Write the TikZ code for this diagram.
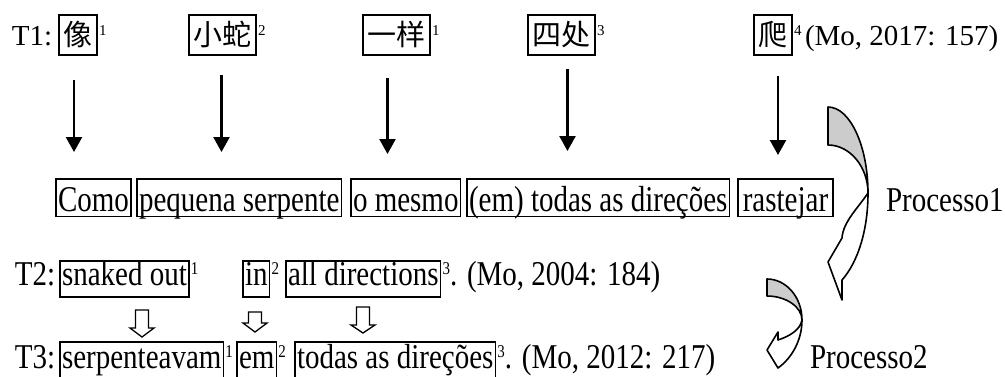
\documentclass[tikz,border=0pt]{standalone}
\usepackage{fontspec}
\usepackage{graphicx}
\setmainfont{Liberation Serif}
\newfontfamily\cjk{Noto Sans CJK SC}
\usetikzlibrary{arrows.meta,calc}
\newcommand\tallA[1]{\scalebox{1}[1.25]{#1}}
\newcommand\tallB[1]{\scalebox{1}[1.2]{#1}}
\newcommand\hdarrow[4]{%
  \draw[hollowline] ({#1-6.5},#2) -- ({#1+6.5},#2) -- ({#1+6.5},#3) -- ({#1+12},#3) -- (#1,#4) -- ({#1-12},#3) -- ({#1-6.5},#3) -- cycle;}
\begin{document}
\begin{tikzpicture}[x=1pt,y=-1pt,
  every node/.style={inner sep=0pt, outer sep=0pt, font=\fontsize{29}{34}\selectfont},
  lbl/.style={anchor=base west},
  mbox/.style={draw, line width=1.8pt, anchor=base west, inner xsep=2pt, inner ysep=0pt, text height=32pt, text depth=5.5pt},
  lbox/.style={draw, line width=1.8pt, anchor=base west, inner xsep=2pt, inner ysep=0pt, text height=24pt, text depth=12pt},
  cbox/.style={draw, line width=1.8pt, anchor=base west, inner xsep=4.5pt, inner ysep=3pt, text height=27pt, text depth=7pt, font=\cjk\fontsize{29}{34}\selectfont},
  sup/.style={anchor=base west, font=\fontsize{15}{18}\selectfont},
  darr/.style={line width=2.3pt, -{Triangle[width=16pt,length=15pt]}},
  curl/.style={line width=1.6pt, line join=round},
  hollowline/.style={draw, line width=1.3pt, fill=white, line join=miter}
]
\useasboundingbox (0,0) rectangle (1005,376);
% ---- T1 row
\node[lbl] (t1) at (12,45) {T1:};
\node[cbox] (z1) at (59,45) {像};
\node[sup] (zs1) at ([xshift=2pt,yshift=10pt]z1.base east) {1};
\node[cbox] (z2) at (189,45) {小蛇};
\node[sup] (zs2) at ([xshift=2pt,yshift=10pt]z2.base east) {2};
\node[cbox] (z3) at (363,45) {一样};
\node[sup] (zs3) at ([xshift=2pt,yshift=10pt]z3.base east) {1};
\node[cbox] (z4) at (528,45) {四处};
\node[sup] (zs4) at ([xshift=2pt,yshift=10pt]z4.base east) {3};
\node[cbox] (z5) at (754,45) {爬};
\node[sup] (zs5) at ([xshift=2pt,yshift=10pt]z5.base east) {4};
\node[lbl] (ref1) at (805,45) {(Mo, 2017: 157)};
% ---- middle row
\node[mbox] (m1) at (56,211) {\tallA{Como}};
\node[mbox] (m2) at (137,211) {\tallA{pequena serpente}};
\node[mbox] (m3) at (351,211) {\tallA{o mesmo}};
\node[mbox] (m4) at (467,211) {\tallA{(em) todas as direções}};
\node[mbox, minimum width=95pt] (m5) at (738,211) {\tallA{rastejar}};
\node[lbl] (p1) at (886,211) {\tallB{Processo1}};
% ---- arrows
\draw[darr] ($(z1.south)+(-4,25)$) -- ($(z1.south |- m1.north)+(-4,-27)$);
\draw[darr] ($(z2.south)+(-1,20)$) -- ($(z2.south |- m2.north)+(-1,-27)$);
\draw[darr] ($(z3.south)+(-9,23)$) -- ($(z3.south |- m3.north)+(-9,-25)$);
\draw[darr] ($(z4.south)+(6,14)$) -- ($(z4.south |- m4.north)+(6,-28)$);
\draw[darr] ($(z5.south)+(5,21)$) -- ($(z5.south |- m5.north)+(5,-24)$);
% ---- T2 row
\node[lbl] (t2) at (15,285) {\tallB{T2:}};
\node[lbox] (a1) at (60,285) {\tallB{snaked out}};
\node[sup] (as1) at ([xshift=2pt,yshift=11pt]a1.base east) {\tallB{1}};
\node[lbox] (a2) at (243,285) {\tallB{in}};
\node[sup] (as2) at ([xshift=2pt,yshift=11pt]a2.base east) {\tallB{2}};
\node[lbox] (a3) at (286,285) {\tallB{all directions}};
\node[sup] (as3) at ([xshift=2pt,yshift=11pt]a3.base east) {\tallB{3}};
\node[lbl] (ref2) at ($(as3.base east)+(0,11)$) {\tallB{. (Mo, 2004: 184)}};
% ---- T3 row
\node[lbl] (t3) at (15,368) {\tallB{T3:}};
\node[lbox, text height=26pt] (b1) at (60,368) {\tallB{serpenteavam}};
\node[sup] (bs1) at ([xshift=2pt,yshift=11pt]b1.base east) {\tallB{1}};
\node[lbox, text height=26pt] (b2) at (237,368) {\tallB{em}};
\node[sup] (bs2) at ([xshift=2pt,yshift=11pt]b2.base east) {\tallB{2}};
\node[lbox, text height=26pt] (b3) at (295,368) {\tallB{todas as direções}};
\node[sup] (bs3) at ([xshift=2pt,yshift=11pt]b3.base east) {\tallB{3}};
\node[lbl] (ref3) at ($(bs3.base east)+(0,11)$) {\tallB{. (Mo, 2012: 217)}};
\node[lbl] (p2) at (810,368) {\tallB{Processo2}};
% ---- hollow arrows
\hdarrow{142}{310}{328}{337}
\hdarrow{255}{312}{323}{332}
\hdarrow{363}{307}{325}{333}
% ---- curved arrow 1
\filldraw[curl, fill=black!20] (828,107) .. controls (850,107) and (868,146) .. (868,193)
  .. controls (868,167) and (850,145) .. (828,145) -- cycle;
\filldraw[curl, fill=white] (868,193) .. controls (868,230) and (858,262) .. (842,280)
  -- (842,300) -- (828,262) -- (842,238)
  .. controls (843,222) and (858,208) .. (868,193) -- cycle;
% ---- curved arrow 2
\filldraw[curl, fill=black!20] (767,279) .. controls (786,279) and (802,297) .. (802,320)
  .. controls (802,307) and (786,296) .. (767,296) -- cycle;
\filldraw[curl, fill=white] (802,320) .. controls (802,340) and (792,358) .. (778,368)
  -- (767,350) -- (778,332) -- (778,340)
  .. controls (790,336) and (800,330) .. (802,320) -- cycle;
\end{tikzpicture}
\end{document}
